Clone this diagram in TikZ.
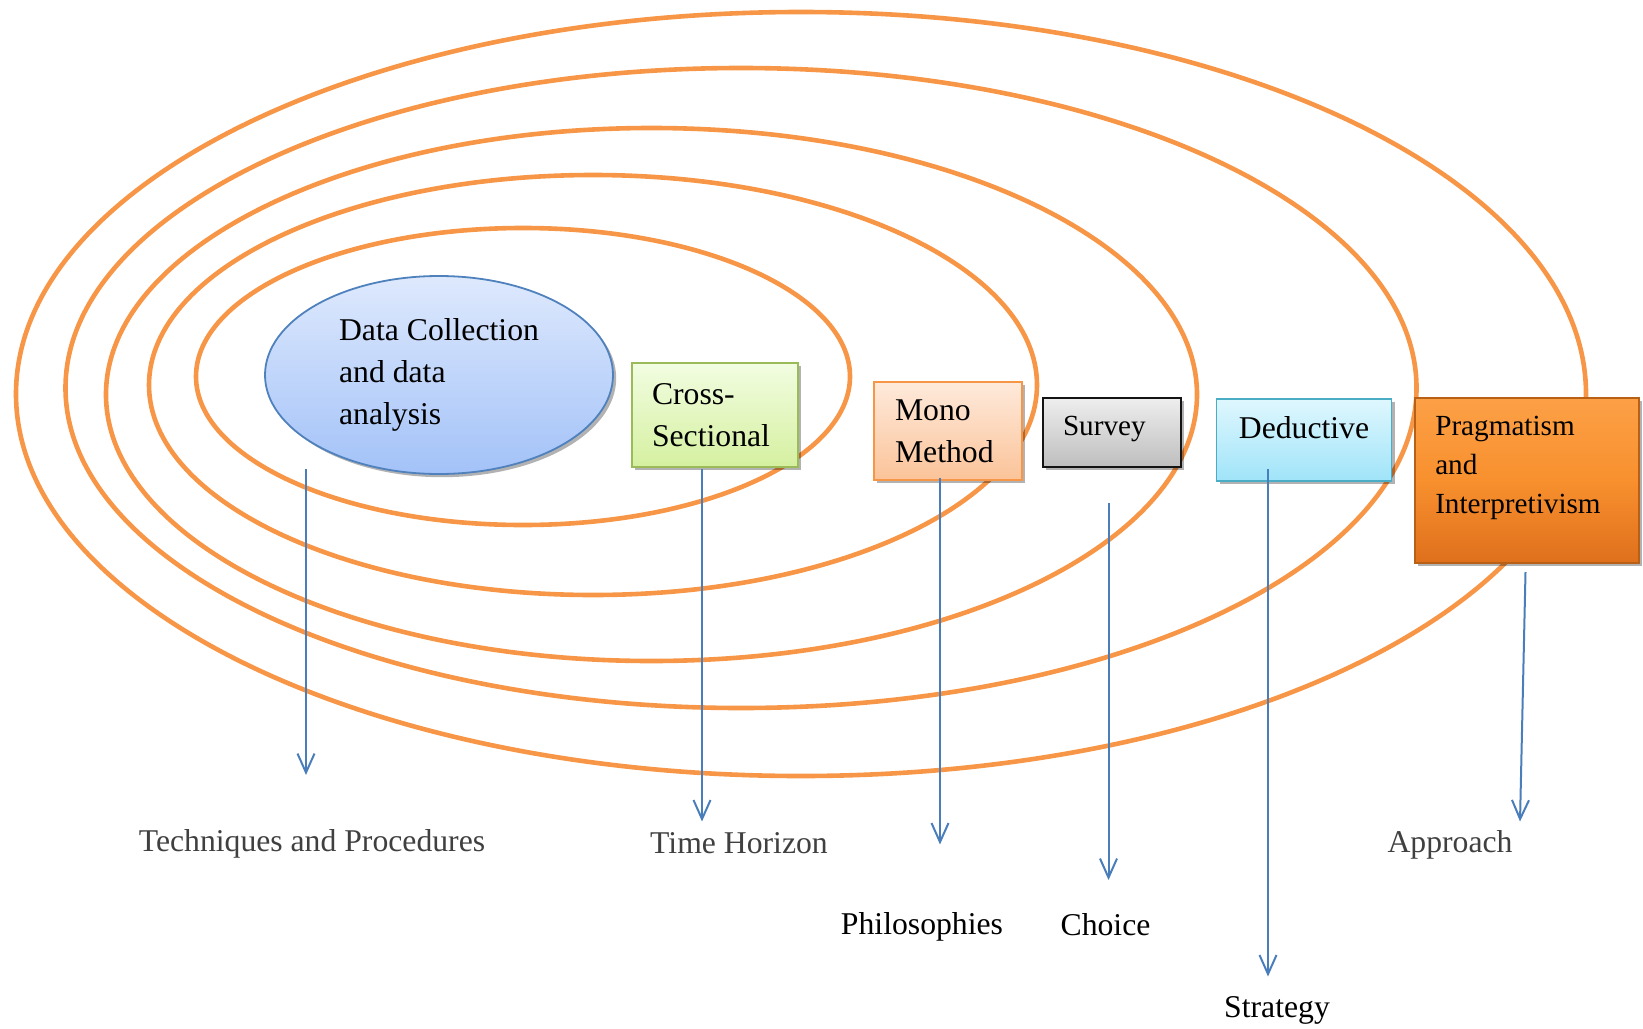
\documentclass[tikz,border=0pt]{standalone}
\usepackage{fontspec}
\setmainfont{Liberation Serif}
\usetikzlibrary{arrows.meta,shapes.geometric,shadows}
\definecolor{ringC}{HTML}{F79646}
\definecolor{arrC}{HTML}{4A7EBB}
\definecolor{greyT}{HTML}{404040}
\tikzset{
  ring/.style={draw=ringC,line width=2.3pt},
  arr/.style={draw=arrC,line width=1pt,-{Straight Barb[length=9.5pt,width=8.5pt,line width=1pt]}},
  boxfont/.style={font=\fontsize{15.85pt}{21pt}\selectfont},
  smallfont/.style={font=\fontsize{14.6pt}{19.5pt}\selectfont},
  shad/.style={drop shadow={shadow xshift=1.6pt,shadow yshift=-1.6pt,opacity=0.3,fill=black}},
  lbl/.style={font=\fontsize{15.85pt}{21pt}\selectfont,inner sep=0pt},
  boxbase/.style={rectangle,shad,line width=0.9pt,align=left,inner ysep=0pt}
}
\begin{document}
\begin{tikzpicture}[x=0.5pt,y=-0.5pt]
\useasboundingbox (0,0) rectangle (1643,1028);
% rings
\draw[ring] (801,394) ellipse [x radius=392.5pt, y radius=191pt];
\draw[ring] (741,388) ellipse [x radius=337.75pt, y radius=160pt];
\draw[ring] (651.5,394.5) ellipse [x radius=272.75pt, y radius=133.25pt];
\draw[ring] (593,385) ellipse [x radius=222pt, y radius=105pt];
\draw[ring] (523,376.5) ellipse [x radius=163.5pt, y radius=74.25pt];
% nodes
\node[ellipse,shad,draw={rgb,255:red,79;green,129;blue,189},line width=0.9pt,
      top color={rgb,255:red,222;green,233;blue,253},bottom color={rgb,255:red,163;green,194;blue,248},
      minimum width=174pt,minimum height=99pt,inner sep=0pt,align=left,boxfont]
  (dc) at (439,375) {Data Collection\\and data\\analysis};
\node[boxbase,draw={rgb,255:red,155;green,187;blue,89},
      top color={rgb,255:red,242;green,253;blue,225},bottom color={rgb,255:red,213;green,240;blue,160},
      minimum width=83pt,minimum height=51.75pt,text width=63pt,inner xsep=10pt,boxfont]
  (cs) at (715,415) {Cross-\\Sectional};
\node[boxbase,draw=ringC,
      top color={rgb,255:red,254;green,234;blue,219},bottom color={rgb,255:red,251;green,195;blue,153},
      minimum width=74pt,minimum height=49pt,text width=53pt,inner xsep=10.5pt,boxfont]
  (mm) at (948,431) {Mono\\Method};
\node[boxbase,draw={rgb,255:red,20;green,20;blue,20},line width=1.1pt,
      top color={rgb,255:red,238;green,238;blue,238},bottom color={rgb,255:red,190;green,190;blue,190},
      minimum width=69pt,minimum height=34.5pt,text width=49pt,inner xsep=10pt,
      text height=10pt,text depth=7pt,smallfont]
  (sv) at (1112,432.5) {Survey};
\node[boxbase,draw={rgb,255:red,75;green,172;blue,198},align=center,
      top color={rgb,255:red,223;green,247;blue,254},bottom color={rgb,255:red,160;green,228;blue,249},
      minimum width=87.5pt,minimum height=41pt,text width=75pt,inner xsep=6pt,
      text height=11pt,text depth=12.5pt,boxfont]
  (dd) at (1304,440) {Deductive};
\node[boxbase,draw={rgb,255:red,184;green,96;blue,22},line width=1.2pt,
      top color={rgb,255:red,252;green,160;blue,70},bottom color={rgb,255:red,222;green,112;blue,28},
      middle color={rgb,255:red,248;green,144;blue,46},
      minimum width=111.75pt,minimum height=82.5pt,text width=91.75pt,inner xsep=10pt,
      text depth=55pt,smallfont]
  (pg) at (1527,480.5) {Pragmatism\\and\\Interpretivism};
% labels
\node[lbl,text=greyT] (tp) at (312,843.5) {Techniques and Procedures};
\node[lbl,text=greyT] (th) at (739,843.5) {Time Horizon};
\node[lbl] (ph) at (922,927) {Philosophies};
\node[lbl] (ch) at (1105.5,925) {Choice};
\node[lbl] (st) at (1277,1010) {Strategy};
\node[lbl,text=greyT] (ap) at (1450,845) {Approach};
% arrow end points
\coordinate (a1s) at (306,469);   \coordinate (a1e) at (306,775);
\coordinate (a2s) at (702,469);   \coordinate (a2e) at (702,821.5);
\coordinate (a3s) at (940,478);   \coordinate (a3e) at (940,844.5);
\coordinate (a4s) at (1108.5,503);\coordinate (a4e) at (1108.5,880);
\coordinate (a5s) at (1268,469);  \coordinate (a5e) at (1268,976.5);
\coordinate (a6s) at (1525.5,572);\coordinate (a6e) at (1520,821.5);
\draw[arr] (a1s) -- (a1e);
\draw[arr] (a2s) -- (a2e);
\draw[arr] (a3s) -- (a3e);
\draw[arr] (a4s) -- (a4e);
\draw[arr] (a5s) -- (a5e);
\draw[arr] (a6s) -- (a6e);
\end{tikzpicture}
\end{document}
